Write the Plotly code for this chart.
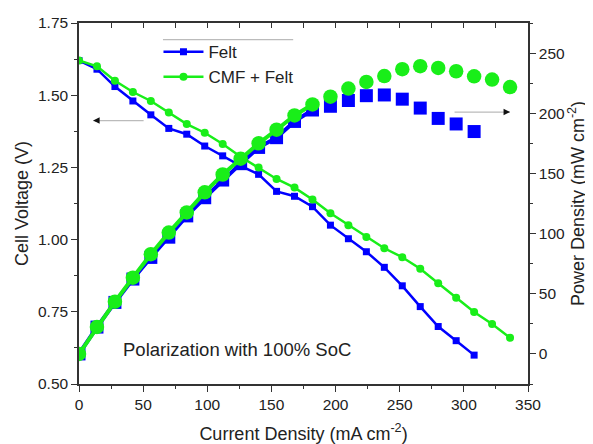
import plotly.graph_objects as go

# ---- data ----
current_felt = [0, 14, 28, 42, 56, 70, 84, 98, 112, 126, 140, 154, 168, 182, 196,
                210, 224, 238, 252, 266, 280, 294, 308]
current_cmf = [0, 14, 28, 42, 56, 70, 84, 98, 112, 126, 140, 154, 168, 182, 196,
               210, 224, 238, 252, 266, 280, 294, 308, 322, 336]

voltage_felt = [1.62, 1.59, 1.53, 1.48, 1.432, 1.385, 1.365, 1.324, 1.29, 1.255,
                1.226, 1.167, 1.15, 1.114, 1.05, 1.003, 0.958, 0.904, 0.84, 0.768,
                0.699, 0.65, 0.60]
voltage_cmf = [1.62, 1.60, 1.55, 1.511, 1.48, 1.44, 1.40, 1.37, 1.331, 1.287,
               1.25, 1.21, 1.18, 1.139, 1.091, 1.05, 1.009, 0.97, 0.939, 0.899,
               0.849, 0.799, 0.749, 0.708, 0.66]

power_felt = [0, 22.3, 42.8, 62.2, 80.2, 97.0, 114.7, 129.8, 144.5, 158.1, 171.6,
              179.7, 193.2, 202.7, 205.8, 210.6, 214.6, 215.2, 211.7, 204.3, 195.7,
              191.1, 184.8]
power_cmf = [0, 22.4, 43.4, 63.4, 82.9, 100.8, 117.6, 134.3, 149.1, 162.2, 175.0,
             186.3, 198.2, 207.3, 213.8, 220.5, 226.0, 230.9, 236.6, 239.1, 237.7,
             234.9, 230.7, 228.0, 221.8]

series_names = ["Felt", "CMF + Felt"]
x_ticks = [0, 50, 100, 150, 200, 250, 300, 350]
y_ticks = [0.50, 0.75, 1.00, 1.25, 1.50, 1.75]
y2_ticks = [0, 50, 100, 150, 200, 250]

BLUE = "#0000FF"
GREEN = "#19EE19"
FONT = "Liberation Sans, Arial, sans-serif"
AX = "#333333"
TXT = "#222222"
N_LINE = 14  # power points joined by a visible line

fig = go.Figure()

# Voltage curves (left axis)
fig.add_trace(go.Scatter(x=current_felt, y=voltage_felt, name=series_names[0],
                         mode="lines+markers",
                         line=dict(color=BLUE, width=2.5),
                         marker=dict(symbol="square", size=7, color=BLUE)))
fig.add_trace(go.Scatter(x=current_cmf, y=voltage_cmf, name=series_names[1],
                         mode="lines+markers",
                         line=dict(color=GREEN, width=2.5),
                         marker=dict(symbol="circle", size=8, color=GREEN)))

# Power curves (right axis)
fig.add_trace(go.Scatter(x=current_felt[:N_LINE], y=power_felt[:N_LINE], yaxis="y2",
                         mode="lines", line=dict(color=BLUE, width=4),
                         showlegend=False, hoverinfo="skip"))
fig.add_trace(go.Scatter(x=current_felt, y=power_felt, yaxis="y2", mode="markers",
                         marker=dict(symbol="square", size=13, color=BLUE),
                         showlegend=False))
fig.add_trace(go.Scatter(x=current_cmf[:N_LINE], y=power_cmf[:N_LINE], yaxis="y2",
                         mode="lines", line=dict(color=GREEN, width=4),
                         showlegend=False, hoverinfo="skip"))
fig.add_trace(go.Scatter(x=current_cmf, y=power_cmf, yaxis="y2", mode="markers",
                         marker=dict(symbol="circle", size=14.5, color=GREEN),
                         showlegend=False))

# invisible trace so the top (mirror) axis with inward ticks is drawn
fig.add_trace(go.Scatter(x=current_felt[:1], y=voltage_felt[:1], xaxis="x2",
                         mode="markers", marker=dict(opacity=0),
                         showlegend=False, hoverinfo="skip"))

tickfont = dict(family=FONT, size=15.5, color=TXT)
titlefont = dict(family=FONT, size=18, color=TXT)

# the page body adds an 8px offset, so the figure is 8px smaller on each side
fig.update_layout(
    width=585, height=436,
    margin=dict(l=71, r=65, t=15, b=60, autoexpand=False),
    paper_bgcolor="white", plot_bgcolor="white",
    font=dict(family=FONT, color=TXT),
    xaxis=dict(range=[0, 350], tickvals=x_ticks, ticks="outside", ticklen=6,
               tickwidth=1.3, tickcolor=AX, automargin=False,
               minor=dict(dtick=25, tick0=0, ticks="outside", ticklen=3.5,
                          tickwidth=1.3, tickcolor=AX),
               showline=True, linecolor=AX, linewidth=1.5,
               showgrid=False, zeroline=False, tickfont=tickfont,
               title=dict(text="Current Density (mA cm<sup>-2</sup>)", font=titlefont,
                          standoff=16)),
    xaxis2=dict(range=[0, 350], overlaying="x", side="top", anchor="y",
                dtick=25, tick0=0, ticks="inside", ticklen=5.5, tickwidth=1.3,
                tickcolor=AX, showticklabels=False, showline=True, automargin=False,
                linecolor=AX, linewidth=1.5, showgrid=False, zeroline=False),
    yaxis=dict(range=[0.5, 1.75], tickvals=y_ticks, tickformat=".2f",
               ticks="outside", ticklen=6, tickwidth=1.3, tickcolor=AX,
               automargin=False,
               minor=dict(dtick=0.125, tick0=0.5, ticks="outside", ticklen=3.5,
                          tickwidth=1.3, tickcolor=AX),
               showline=True, linecolor=AX, linewidth=1.5,
               showgrid=False, zeroline=False, tickfont=tickfont,
               title=dict(text="Cell Voltage (V)", font=titlefont, standoff=5)),
    yaxis2=dict(range=[-25, 275], overlaying="y", side="right", tickvals=y2_ticks,
                ticks="outside", ticklen=6, tickwidth=1.3, tickcolor=AX,
                automargin=False,
                minor=dict(dtick=25, tick0=0, ticks="outside", ticklen=3.5,
                           tickwidth=1.3, tickcolor=AX),
                showline=True, linecolor=AX, linewidth=1.5,
                showgrid=False, zeroline=False, tickfont=tickfont,
                title=dict(text="Power Density (mW cm<sup>-2</sup>)", font=titlefont,
                           standoff=6)),
    legend=dict(x=0.177, y=0.969, xanchor="left", yanchor="top",
                bgcolor="rgba(0,0,0,0)", font=dict(family=FONT, size=17, color=TXT),
                tracegroupgap=0, itemwidth=40),
    showlegend=True,
    shapes=[dict(type="line", xref="paper", yref="paper", x0=0.187, x1=0.477,
                 y0=0.954, y1=0.954, line=dict(color="#BBBBBB", width=1.2))],
    annotations=[
        # left-pointing arrow (voltage -> left axis)
        dict(x=11, y=1.412, xref="x", yref="y", ax=52, ay=0, axref="pixel",
             ayref="pixel", showarrow=True, arrowhead=0, arrowwidth=1.2,
             arrowcolor="#BBBBBB", text=""),
        dict(x=11, y=1.412, xref="x", yref="y", ax=7, ay=0, showarrow=True,
             arrowhead=2, arrowsize=1, arrowwidth=1.3, arrowcolor="#111111", text=""),
        # right-pointing arrow (power -> right axis)
        dict(x=336, y=201, xref="x", yref="y2", ax=-57, ay=0, showarrow=True,
             arrowhead=0, arrowwidth=1.2, arrowcolor="#BBBBBB", text=""),
        dict(x=336, y=201, xref="x", yref="y2", ax=-7, ay=0, showarrow=True,
             arrowhead=2, arrowsize=1, arrowwidth=1.3, arrowcolor="#111111", text=""),
        dict(x=33, y=0.618, xref="x", yref="y", text="Polarization with 100% SoC",
             showarrow=False, xanchor="left", yanchor="middle",
             font=dict(family=FONT, size=18.5, color=TXT)),
    ],
)

fig.write_html("out.html")
